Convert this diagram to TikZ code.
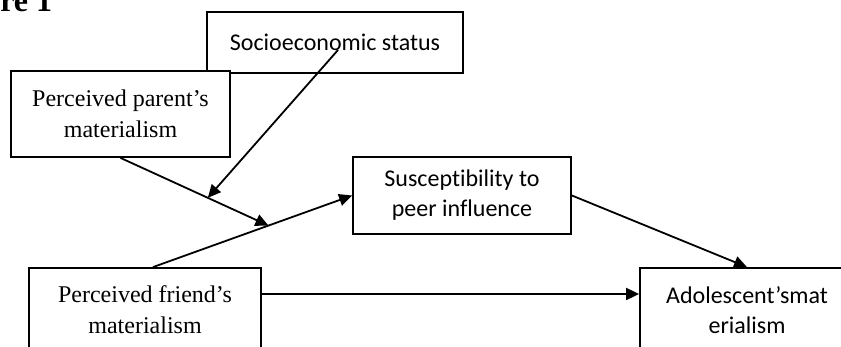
\documentclass[tikz,border=0pt]{standalone}
\usepackage{fontspec}
\setmainfont{Liberation Serif}
\newfontfamily\calibfont[Ligatures={NoCommon}]{Carlito}
\usetikzlibrary{arrows.meta}
\usetikzlibrary{calc}
\tikzset{>={Triangle[length=6.5pt,width=6pt]}}
\tikzset{serifbox/.style={draw,fill=white,line width=0.9pt,inner sep=0pt,align=center,font=\fontsize{12}{15.5}\selectfont}}
\tikzset{sansbox/.style={serifbox,font=\calibfont\fontsize{12}{15}\selectfont}}

\begin{document}
\begin{tikzpicture}[x=0.5pt,y=-0.5pt,line width=0.9pt]
\useasboundingbox (0,0) rectangle (841,347);
    %title
    \node[anchor=base east,inner sep=0pt,font=\fontsize{16}{19}\selectfont\bfseries] (title) at (53,12) {re 1};
    %boxes
    \node[sansbox,minimum width=128pt,minimum height=30.5pt] (ses) at (335,42.5) {Socioeconomic status};
    \node[serifbox,minimum width=109.5pt,minimum height=43pt] (parent) at (120.5,114) {Perceived parent’s\\materialism};
    \node[sansbox,minimum width=109pt,minimum height=38.5pt] (susc) at (462,195.5) {Susceptibility to\\peer influence};
    \node[serifbox,minimum width=116pt,minimum height=42pt] (friend) at (145,310) {Perceived friend’s\\materialism};
    \node[sansbox,minimum width=107pt,minimum height=42pt] (adol) at (747,310) {Adolescent’smat\\erialism};
    %points on lines
    \coordinate (fs) at ([xshift=4pt]friend.north);
    \coordinate (jn) at ($(fs)!0.58!(susc.west)$);
    \coordinate (mod) at ($(parent.south)!0.59!(jn)$);
    %arrows
    \draw[->] (fs) -- (susc.west);
    \draw[->] (parent.south) -- (jn);
    \draw[->] ([shift={(1.5pt,-3.75pt)}]ses.center) -- (mod);
    \draw[->] (susc.east) -- (adol.north);
    \draw[->] ([yshift=8pt]friend.east) -- ([yshift=8pt]adol.west);
\end{tikzpicture}
\end{document}
